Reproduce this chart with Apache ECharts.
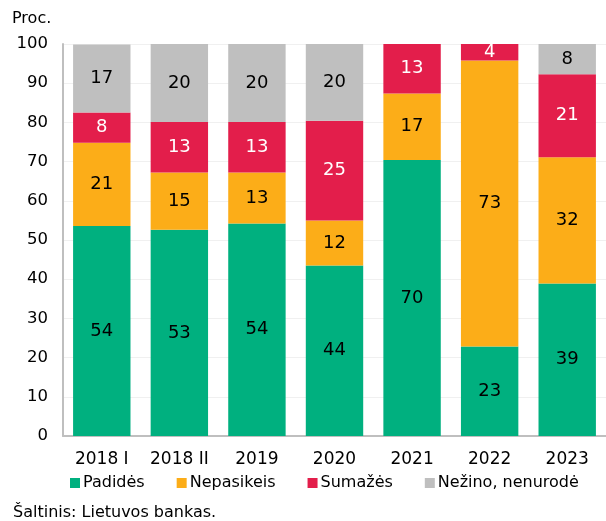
<!DOCTYPE html>
<html>
<head>
<meta charset="utf-8">
<script src="https://cdn.jsdelivr.net/npm/echarts@6/dist/echarts.min.js"></script>
<style>html,body{margin:0;padding:0;background:#fff}#c{width:606px;height:521px}</style>
</head>
<body>
<div id="c"></div>
<script>
const categories = ['2018 I', '2018 II', '2019', '2020', '2021', '2022', '2023'];
const padides = [53.6, 52.6, 54.2, 43.5, 70.4, 22.8, 38.9];
const nepasikeis = [21.2, 14.6, 13.0, 11.5, 17.0, 73.0, 32.2];
const sumazes = [7.7, 12.9, 12.9, 25.4, 12.6, 4.2, 21.2];
const nezino = [17.4, 19.9, 19.9, 19.6, 0, 0, 7.7];
const seriesNames = ['Padidės', 'Nepasikeis', 'Sumažės', 'Nežino, nenurodė'];
const yTicks = [0, 10, 20, 30, 40, 50, 60, 70, 80, 90, 100];

const FONT = 'DejaVu Sans';
const colors = ['#00b07f', '#fcad18', '#e31e4b', '#bfbfbf'];
const labelColors = ['#000', '#000', '#fff', '#000'];
const allData = [padides, nepasikeis, sumazes, nezino];

const chart = echarts.init(document.getElementById('c'));
chart.setOption({
  animation: false,
  color: colors,
  textStyle: { fontFamily: FONT },
  grid: { left: 63, top: 44, width: 548, height: 392, containLabel: false },
  graphic: [
    { type: 'text', left: 12, top: 11, style: { text: 'Proc.', font: '16px "DejaVu Sans"', fill: '#000' } },
    { type: 'text', left: 13, top: 505, style: { text: 'Šaltinis: Lietuvos bankas.', font: '16px "DejaVu Sans"', fill: '#000' } }
  ],
  legend: {
    left: 65, top: 470, itemWidth: 10, itemHeight: 10, itemGap: 32,
    icon: 'rect',
    textStyle: { fontFamily: FONT, fontSize: 16, color: '#000', padding: [0, 0, 0, -2] },
    data: seriesNames
  },
  xAxis: {
    type: 'category', data: categories,
    axisLine: { lineStyle: { color: '#bfbfbf', width: 2 } },
    axisTick: { show: false },
    axisLabel: { color: '#000', fontSize: 17, fontFamily: FONT, margin: 15, interval: 0 }
  },
  yAxis: {
    type: 'value', min: yTicks[0], max: yTicks[yTicks.length - 1], interval: 10,
    axisLine: { show: true, lineStyle: { color: '#bfbfbf', width: 2 } },
    axisTick: { show: false },
    axisLabel: { color: '#000', fontSize: 16.5, fontFamily: FONT, margin: 15 },
    splitLine: { lineStyle: { color: '#f0f0f0', width: 1 } }
  },
  series: seriesNames.map((n, i) => ({
    name: n, type: 'bar', stack: 'a', barWidth: '74%',
    data: allData[i],
    itemStyle: { color: colors[i] },
    label: {
      show: true, position: 'inside', color: labelColors[i], fontSize: 18, fontFamily: FONT,
      formatter: p => p.value > 0 ? String(Math.round(p.value)) : ''
    }
  }))
});
</script>
</body>
</html>
